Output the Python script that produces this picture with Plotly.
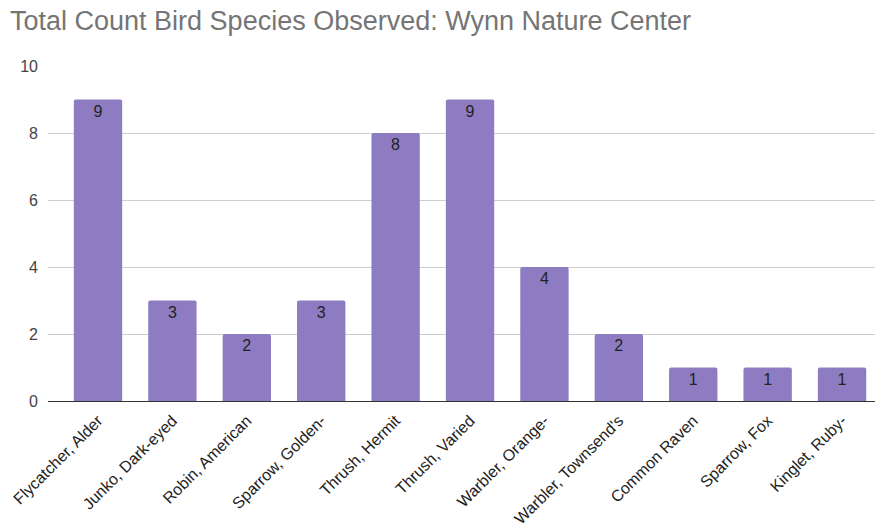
import plotly.graph_objects as go

species = ["Flycatcher, Alder", "Junko, Dark-eyed", "Robin, American", "Sparrow, Golden-",
           "Thrush, Hermit", "Thrush, Varied", "Warbler, Orange-", "Warbler, Townsend's",
           "Common Raven", "Sparrow, Fox", "Kinglet, Ruby-"]
counts = [9, 3, 2, 3, 8, 9, 4, 2, 1, 1, 1]
y_ticks = [0, 2, 4, 6, 8, 10]

fig = go.Figure(go.Bar(
    x=species, y=counts, text=counts, textposition="inside", insidetextanchor="end",
    textfont=dict(size=16, color="#222222"), marker=dict(color="#8e7cc3", line=dict(width=0)),
    textangle=0,
))
# page body adds an 8px offset, so margins are shifted to compensate
fig.update_layout(
    width=883, height=529,
    margin=dict(l=40, r=11, t=58, b=136, autoexpand=False),
    paper_bgcolor="white", plot_bgcolor="white",
    font=dict(family="Liberation Sans, Arial, sans-serif"),
    title=dict(text="Total Count Bird Species Observed: Wynn Nature Center", x=0.0023, xanchor="left",
               y=0.994, yanchor="top", pad=dict(t=0, l=0), font=dict(size=27, color="#757575"),
               automargin=False),
    bargap=0.35, barcornerradius=2, showlegend=False,
)
fig.update_xaxes(range=[-0.672, 10.51], tickangle=-45, tickfont=dict(size=16, color="#222222"),
                 showline=True, linecolor="#333333", linewidth=1, ticks="", showgrid=False,
                 ticklabelstandoff=3, automargin=False)
fig.update_yaxes(range=[0, 10], tickvals=y_ticks, tickfont=dict(size=16, color="#444444"),
                 gridcolor="#cccccc", gridwidth=1, zeroline=True, zerolinecolor="#333333",
                 zerolinewidth=1, ticks="", ticklabelstandoff=9, automargin=False)
fig.write_html("out.html")
